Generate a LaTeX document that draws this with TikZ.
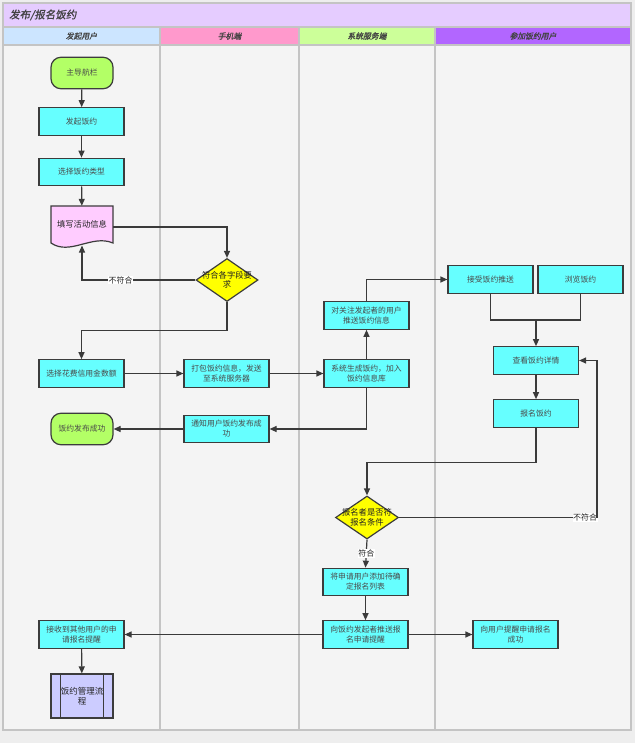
\documentclass[tikz,border=0pt]{standalone}
\usepackage{fontspec}
\setmainfont{Noto Sans CJK SC}
\newfontfamily\cjkit[FakeSlant=0.2,FakeBold=1.2]{Noto Sans CJK SC}
\usetikzlibrary{shapes.geometric,arrows.meta}
\definecolor{bgc}{HTML}{EEEEEE}
\definecolor{lanebg}{HTML}{F4F4F4}
\definecolor{lanel}{HTML}{C4C4C4}
\definecolor{titlec}{HTML}{E5CCFF}
\definecolor{hA}{HTML}{CCE5FF}
\definecolor{hB}{HTML}{FF99CC}
\definecolor{hC}{HTML}{CCFF99}
\definecolor{hD}{HTML}{B266FF}
\definecolor{cy}{HTML}{66FFFF}
\definecolor{gr}{HTML}{B3FF66}
\definecolor{pk}{HTML}{FFCCFF}
\definecolor{yl}{HTML}{FFFF00}
\definecolor{lv}{HTML}{CCCCFF}
\definecolor{bd}{HTML}{3C3C3C}
\definecolor{lc}{HTML}{3A3A3A}
\definecolor{tx}{HTML}{4A4A4A}
\definecolor{dk}{HTML}{222222}
\tikzset{
  boxn/.style={draw=bd, fill=cy, line width=1.2pt, minimum width=85pt, minimum height=27.5pt,
    inner sep=0pt, align=center, text=tx, font=\fontsize{7.8}{10}\selectfont},
  termn/.style={draw=bd, fill=gr, line width=1.2pt, minimum width=62pt, minimum height=31.5pt,
    rounded corners=10pt, inner sep=0pt, align=center, text=tx, font=\fontsize{7.8}{10}\selectfont},
  decn/.style={diamond, draw=bd, fill=yl, line width=1.2pt, minimum width=62pt, minimum height=43pt,
    inner sep=0pt},
  dtext/.style={align=center, text=dk, font=\fontsize{8.3}{9.5}\selectfont, inner sep=0pt},
  hdr/.style={text=dk!85, font=\cjkit\fontsize{7.8}{9}\selectfont, inner sep=0pt},
  arr/.style={draw=lc, line width=1.2pt, -{Triangle[length=7pt,width=6pt]}},
  ln/.style={draw=lc, line width=1.2pt},
  lbl/.style={fill=white, inner sep=0.6pt, text=dk, font=\fontsize{8}{9}\selectfont}
}
\begin{document}
\begin{tikzpicture}[x=1pt,y=-1pt]
\useasboundingbox (0,0) rectangle (635,743);
\fill[bgc] (0,0) rectangle (635,743);
% pool
\fill[lanebg] (3,45) rectangle (631,730);
\fill[titlec] (3,3) rectangle (631,27);
\fill[hA] (3,27) rectangle (160,45);
\fill[hB] (160,27) rectangle (299,45);
\fill[hC] (299,27) rectangle (435,45);
\fill[hD] (435,27) rectangle (631,45);
\draw[lanel, line width=1.2pt] (3,3) rectangle (631,730);
\draw[lanel, line width=1.2pt] (3,27) -- (631,27);
\draw[lanel, line width=1.2pt] (3,45) -- (631,45);
\draw[lanel, line width=1.2pt] (160,27) -- (160,730);
\draw[lanel, line width=1.2pt] (299,27) -- (299,730);
\draw[lanel, line width=1.2pt] (435,27) -- (435,730);
\node[anchor=west, text=dk!85, font=\cjkit\fontsize{10.5}{12}\selectfont, inner sep=0pt] (title) at (9,15) {发布/报名饭约};
\node[hdr] (hA) at (81.5,36) {发起用户};
\node[hdr] (hB) at (229.5,36) {手机端};
\node[hdr] (hC) at (367,36) {系统服务端};
\node[hdr] (hD) at (533,36) {参加饭约用户};

% nodes
\node[termn] (n1) at (82,73) {主导航栏};
\node[boxn] (n2) at (81.5,121.5) {发起饭约};
\node[boxn] (n3) at (81.5,172) {选择饭约类型};
\filldraw[draw=bd, fill=pk, line width=1.2pt] (51,206) -- (113,206) -- (113,243)
  .. controls (92,234) and (70,256) .. (51,243) -- cycle;
\node[minimum width=62pt, minimum height=37pt, inner sep=0pt, text=dk, font=\fontsize{8.3}{10}\selectfont] (n4) at (82,224.5) {填写活动信息};
\coordinate (n4b) at (82,245.5);
\node[decn, label={[dtext]center:符合各字段要\\求}] (d1) at (227,280) {};
\node[boxn] (n5) at (81.5,373.5) {选择花费信用金数额};
\node[boxn] (n6) at (226.5,373.5) {打包饭约信息，发送\\至系统服务器};
\node[termn] (n7) at (82,429) {饭约发布成功};
\node[boxn] (n8) at (226.5,429) {通知用户饭约发布成\\功};
\node[boxn] (n9) at (366.5,373.5) {系统生成饭约，加入\\饭约信息库};
\node[boxn] (n10) at (366.5,315.5) {对关注发起者的用户\\推送饭约信息};
\node[boxn] (n11) at (490.5,279.5) {接受饭约推送};
\node[boxn] (n12) at (580.5,279.5) {浏览饭约};
\node[boxn] (n13) at (536,360.5) {查看饭约详情};
\node[boxn] (n14) at (536,413.5) {报名饭约};
\node[decn, minimum width=63pt, label={[dtext]center:报名者是否符\\报名条件}] (d2) at (367,517.5) {};
\node[boxn] (n15) at (365.5,582) {将申请用户添加待确\\定报名列表};
\node[boxn] (n16) at (365.5,634.5) {向饭约发起者推送报\\名申请提醒};
\node[boxn] (n17) at (515.5,634.5) {向用户提醒申请报名\\成功};
\node[boxn] (n18) at (81.5,634.5) {接收到其他用户的申\\请报名提醒};
\node[draw=bd, fill=lv, line width=1.2pt, minimum width=62pt, minimum height=44pt, inner sep=0pt] (n19) at (82,696) {};
\draw[bd, line width=1.2pt] ([xshift=10pt]n19.north west) -- ([xshift=10pt]n19.south west);
\draw[bd, line width=1.2pt] ([xshift=-10pt]n19.north east) -- ([xshift=-10pt]n19.south east);
\node[inner sep=0pt, text=dk, font=\fontsize{8.5}{10}\selectfont, align=center] (n19t) at (n19) {饭约管理流\\程};

\coordinate (j1) at (536,320);
\coordinate (r1) at (597,517.5);

% connectors
\draw[arr] (n1) -- (n2);
\draw[arr] (n2) -- (n3);
\draw[arr] (n3) -- (n4);
\draw[arr] ([yshift=-2.5pt]n4.east) -| (d1.north);
\draw[arr] (d1.west) -| node[lbl, pos=0.33] {不符合} (n4b);
\draw[arr] (d1.south) -- ++(0,28.5) -| (n5.north);
\draw[arr] (n5) -- (n6);
\draw[arr] (n6) -- (n9);
\draw[arr] (n9) -- (n10);
\draw[arr] (n10.north) |- (n11.west);
\draw[arr] (n9.south) |- (n8.east);
\draw[arr] (n8) -- (n7);
\draw[ln] (n11.south) |- (j1);
\draw[ln] (n12.south) |- (j1);
\draw[arr] (j1) -- (n13.north);
\draw[arr] (n13) -- (n14);
\draw[arr] (n14.south) -- ++(0,35) -| (d2.north);
\draw[ln] (d2.east) -- node[lbl, pos=0.94] {不符合} (r1);
\draw[arr] (r1) |- (n13.east);
\draw[arr] (d2.south) -- node[lbl, pos=0.5] {符合} (n15.north);
\draw[arr] (n15) -- (n16);
\draw[arr] (n16) -- (n18);
\draw[arr] (n16) -- (n17);
\draw[arr] (n18) -- (n19);
\end{tikzpicture}
\end{document}
